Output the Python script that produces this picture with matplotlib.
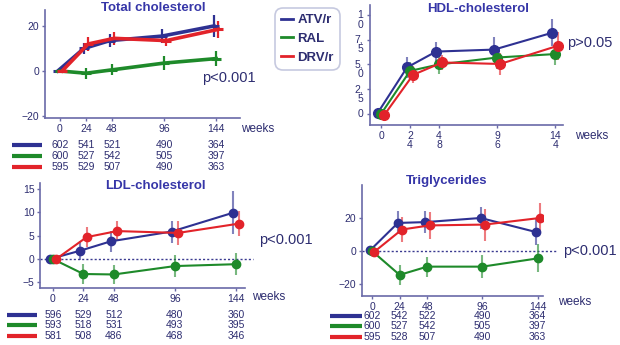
import matplotlib
matplotlib.use("Agg")
import matplotlib.pyplot as plt
from matplotlib.lines import Line2D
from matplotlib.transforms import blended_transform_factory

# ---- data -------------------------------------------------------------
weeks = [0, 24, 48, 96, 144]
groups = ["ATV/r", "RAL", "DRV/r"]

tc_atv = [0, 10, 13.5, 15.5, 20]
tc_atv_err = [0, 2.5, 3, 3, 5]
tc_ral = [0, -1, 0.5, 3.5, 5.5]
tc_ral_err = [0, 2.5, 2.5, 3, 3.3]
tc_drv = [0, 12, 14.5, 13.5, 18.5]
tc_drv_err = [0, 3, 3, 2.5, 3.8]
tc_n = [[602, 541, 521, 490, 364],
        [600, 527, 542, 505, 397],
        [595, 529, 507, 490, 363]]

hdl_atv = [0.15, 4.7, 6.3, 6.5, 8.2]
hdl_atv_err = [0, 1.1, 1.0, 1.25, 1.35]
hdl_ral = [0, 4.35, 5.0, 5.7, 6.05]
hdl_ral_err = [0, 0.9, 1.0, 1.2, 1.1]
hdl_drv = [-0.13, 3.95, 5.2, 5.05, 6.9]
hdl_drv_err = [0, 0.85, 0.75, 1.1, 1.4]
hdl_yticklabels = ["0", "2,\n5", "5,\n0", "7,\n5", "1\n0"]
hdl_xticklabels = ["0", "2\n4", "4\n8", "9\n6", "14\n4"]

ldl_atv = [0, 1.8, 3.8, 5.9, 9.9]
ldl_atv_err = [0, 2.1, 2.3, 2.35, 4.6]
ldl_ral = [0, -3.2, -3.3, -1.5, -1.1]
ldl_ral_err = [0, 2.1, 2.1, 2.3, 2.3]
ldl_drv = [0, 4.7, 6.0, 5.6, 7.6]
ldl_drv_err = [0, 2.2, 2.1, 2.5, 2.7]
ldl_n = [[596, 529, 512, 480, 360],
         [593, 518, 531, 493, 395],
         [581, 508, 486, 468, 346]]

tg_atv = [0.5, 17, 17.5, 20, 11.5]
tg_atv_err = [0, 7, 6.5, 6.7, 7.6]
tg_ral = [0, -14.5, -9.5, -9.5, -4.5]
tg_ral_err = [0, 6, 6, 7, 8.5]
tg_drv = [-0.5, 13, 15.5, 16, 20]
tg_drv_err = [0, 7.5, 8, 9.7, 9.1]
tg_n = [[602, 542, 522, 490, 364],
        [600, 527, 542, 505, 397],
        [595, 528, 507, 490, 363]]

# ---- style ------------------------------------------------------------
plt.rcParams["font.family"] = ["Liberation Sans", "DejaVu Sans"]

BLUE = "#2e3192"
GREEN = "#1e8a2a"
RED = "#e2232a"
COLORS = [BLUE, GREEN, RED]
NAVY = "#2d2d70"
TITLE = "#3636a8"
SPINE = "#6a6aa8"
TICK_FS = 7.5

W, H = 620, 345
fig = plt.figure(figsize=(W / 100, H / 100), dpi=100)
fig.patch.set_facecolor("white")


def px_axes(l, t, r, b):
    return fig.add_axes([l / W, 1 - b / H, (r - l) / W, (b - t) / H])


def ftext(x, y, s, **kw):
    fig.text(x / W, 1 - y / H, s, **kw)


def style_axes(ax, xlim, ylim):
    ax.set_xlim(*xlim)
    ax.set_ylim(*ylim)
    for side in ("top", "right"):
        ax.spines[side].set_visible(False)
    for side in ("left", "bottom"):
        ax.spines[side].set_color(SPINE)
        ax.spines[side].set_linewidth(1.2)
    ax.tick_params(colors=SPINE, labelcolor=NAVY, labelsize=TICK_FS,
                   length=2.5, width=1, pad=1.5)
    ax.set_xticks(weeks)
    ax.patch.set_alpha(0)


def draw_group(ax, ys, errs, color, dodge, thick=False, ms=6):
    xs = [w + dodge for w in weeks]
    if thick:
        ax.errorbar(xs, ys, yerr=errs, color=color, lw=2.6, elinewidth=1.6,
                    marker="_", ms=7, mew=2.2, capsize=0, zorder=3)
    else:
        ax.errorbar(xs, ys, yerr=errs, fmt="none", ecolor=color, alpha=0.6,
                    elinewidth=1.5, capsize=0, zorder=2)
        ax.plot(xs, ys, color=color, lw=1.5, marker="o", ms=ms, zorder=3)


def n_table(ax, rows, ys, x0, x1):
    tr = blended_transform_factory(ax.transData, fig.transFigure)
    for row, y, c in zip(rows, ys, COLORS):
        fig.add_artist(Line2D([x0 / W, x1 / W], [1 - y / H, 1 - y / H],
                              color=c, lw=3, solid_capstyle="butt"))
        for w, n in zip(weeks, row):
            ax.text(w, 1 - y / H, str(n), transform=tr, ha="center",
                    va="center", fontsize=TICK_FS, color=NAVY, clip_on=False)


def zero_line(ax, x_end):
    ax.plot([ax.get_xlim()[0], x_end], [0, 0], ls=(0, (1.5, 1.5)),
            color="#3a3a90", lw=1, clip_on=False, zorder=1)


# ---- Total cholesterol ------------------------------------------------
ax1 = px_axes(45, 10, 240, 118)
style_axes(ax1, (-13.8, 166), (-20.9, 27.1))
ax1.set_yticks([-20, 0, 20])
for ys, es, c, d in zip([tc_atv, tc_ral, tc_drv],
                        [tc_atv_err, tc_ral_err, tc_drv_err],
                        COLORS, [-2, 0, 2]):
    draw_group(ax1, ys, es, c, d, thick=True)
ftext(153, 8, "Total cholesterol", ha="center", va="center", fontsize=9.5,
      fontweight="bold", color=TITLE)
ftext(229, 78, "p<0.001", ha="center", va="center", fontsize=10.5, color=NAVY)
ftext(241, 129, "weeks", ha="left", va="center", fontsize=8.5, color=NAVY)
n_table(ax1, tc_n, [145, 156, 167], 12, 42)

# ---- HDL-cholesterol --------------------------------------------------
ax2 = px_axes(370, 5, 563, 125)
style_axes(ax2, (-9.1, 150.4), (-1.11, 11.0))
ax2.set_yticks([0, 2.5, 5, 7.5, 10])
ax2.set_yticklabels([])
for v, lab in zip([0, 2.5, 5, 7.5, 10], hdl_yticklabels):
    ax2.annotate(lab, xy=(0, v), xycoords=("axes fraction", "data"),
                 xytext=(-5, 3.5), textcoords="offset points", ha="right",
                 va="top", fontsize=TICK_FS, color=NAVY, linespacing=0.95)
ax2.set_xticklabels(hdl_xticklabels, linespacing=0.95)
for ys, es, c, d in zip([hdl_atv, hdl_ral, hdl_drv],
                        [hdl_atv_err, hdl_ral_err, hdl_drv_err],
                        COLORS, [-2.5, 0, 2.5]):
    draw_group(ax2, ys, es, c, d, ms=7)
ftext(478, 9, "HDL-cholesterol", ha="center", va="center", fontsize=9.5,
      fontweight="bold", color=TITLE)
ftext(590, 43, "p>0.05", ha="center", va="center", fontsize=10.5, color=NAVY)
ftext(575, 136, "weeks", ha="left", va="center", fontsize=8.5, color=NAVY)

# ---- LDL-cholesterol --------------------------------------------------
ax3 = px_axes(40, 183, 245, 288)
style_axes(ax3, (-10.2, 151.2), (-6.2, 16.3))
ax3.set_yticks([-5, 0, 5, 10, 15])
zero_line(ax3, 157.5)
for ys, es, c, d in zip([ldl_atv, ldl_ral, ldl_drv],
                        [ldl_atv_err, ldl_ral_err, ldl_drv_err],
                        COLORS, [-2.5, 0, 2.5]):
    draw_group(ax3, ys, es, c, d)
ftext(155, 186, "LDL-cholesterol", ha="center", va="center", fontsize=9.5,
      fontweight="bold", color=TITLE)
ftext(286, 240, "p<0.001", ha="center", va="center", fontsize=10.5, color=NAVY)
ftext(252, 297, "weeks", ha="left", va="center", fontsize=8.5, color=NAVY)
n_table(ax3, ldl_n, [315, 325, 336], 7, 37)

# ---- Triglycerides ----------------------------------------------------
ax4 = px_axes(362, 185, 543, 296)
style_axes(ax4, (-8.7, 148.7), (-27.3, 40))
ax4.set_yticks([-20, 0, 20])
zero_line(ax4, 161)
for ys, es, c, d in zip([tg_atv, tg_ral, tg_drv],
                        [tg_atv_err, tg_ral_err, tg_drv_err],
                        COLORS, [-1.5, 0, 2]):
    draw_group(ax4, ys, es, c, d)
ftext(447, 181, "Triglycerides", ha="center", va="center", fontsize=9.5,
      fontweight="bold", color=TITLE)
ftext(590, 251, "p<0.001", ha="center", va="center", fontsize=10.5, color=NAVY)
ftext(558, 302, "weeks", ha="left", va="center", fontsize=8.5, color=NAVY)
n_table(ax4, tg_n, [316, 326, 337], 330, 362)

# ---- shared legend ----------------------------------------------------
handles = [Line2D([], [], color=c, lw=2) for c in COLORS]
leg = fig.legend(handles, groups, loc="upper left",
                 bbox_to_anchor=(275 / W, 1 - 8 / H), frameon=True,
                 fancybox=True, handlelength=0.9, handletextpad=0.35,
                 labelspacing=0.5, borderpad=0.45, borderaxespad=0,
                 prop={"weight": "bold", "size": 9.5}, labelcolor=NAVY)
leg.get_frame().set_edgecolor("#b8bcd8")
leg.get_frame().set_linewidth(1.2)
leg.get_frame().set_boxstyle("round", pad=0, rounding_size=0.6)

fig.savefig("out.png", dpi=100, facecolor="white")
